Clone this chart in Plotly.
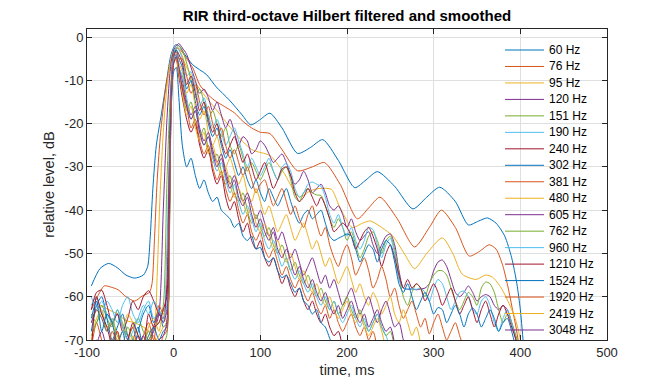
import plotly.graph_objects as go

# ---------------- data ----------------
BANDS = ["60 Hz", "76 Hz", "95 Hz", "120 Hz", "151 Hz", "190 Hz", "240 Hz", "302 Hz", "381 Hz",
         "480 Hz", "605 Hz", "762 Hz", "960 Hz", "1210 Hz", "1524 Hz", "1920 Hz", "2419 Hz", "3048 Hz"]
COLORS = ['#0072BD', '#D95319', '#EDB120', '#7E2F8E', '#77AC30', '#4DBEEE', '#A2142F']

X_TICKS = [-100, 0, 100, 200, 300, 400, 500]
Y_TICKS = [0, -10, -20, -30, -40, -50, -60, -70]
Y_TICK_TEXT = ["0", "-10", "-20", "-30", "-40", "-50", "-60", "-70"]

# smooth low bands: own knots (time ms, level dB)
T60 = [-95, -85, -75, -65, -55, -45, -35, -30, -27, -24, -20, -14, -8, -3, 2, 6, 11, 22, 38, 49,
       64, 79, 89, 99, 111, 125, 143, 158, 172, 190, 209, 222, 235, 255, 276, 292, 307, 325, 340, 352,
       362, 372, 382, 390, 396, 400, 404]
Y60 = [-57.5, -53.5, -52.3, -53.3, -55, -55.7, -55, -53, -46, -35, -25, -17.6, -9.9, -4, -1.8, -2, -3.5, -6.4, -8.7, -11.5,
       -14.5, -18, -20.3, -19.2, -17.6, -21, -26.9, -25.5, -23.7, -28.5, -34.8, -33, -31.1, -34.5, -39.7, -37, -34.7, -38, -43.4, -42.5,
       -41.8, -43, -46, -51, -57, -63, -72]

T76 = [-95, -88, -80, -72, -64, -55, -45, -36, -28, -25, -22, -19, -15, -10, -5, 0, 5, 10, 15, 22,
       30, 38, 47, 59, 70, 80, 90, 100, 111, 125, 143, 160, 174, 192, 212, 225, 238, 258, 278, 295,
       309, 325, 341, 353, 364, 372, 380, 386, 391, 395, 399]
Y76 = [-63, -60, -57.5, -57.8, -58.4, -60, -61, -59.8, -59, -57, -46, -33, -22, -13, -7, -3.5, -2.5, -3.5, -5, -7.1,
       -11, -13, -14.6, -16.1, -17.5, -19.5, -21, -22, -22.3, -26, -30.9, -30, -29, -34, -42, -39.5, -37, -42, -48.5, -44,
       -40, -44, -50.6, -49.5, -48, -49, -53, -58, -63, -67, -72]

T95 = [-95, -85, -75, -65, -55, -45, -35, -27, -22, -19, -16, -12, -8, -4, 0, 4, 8, 15, 30, 50,
       70, 90, 111, 126, 145, 158, 168, 182, 191, 206, 218, 227, 240, 253, 266, 278, 292, 310, 322, 333,
       349, 360, 368, 378, 388, 394, 398, 402]
Y95 = [-66, -62, -63, -64, -65.5, -66, -67, -68, -66, -55, -38, -22, -12, -6, -3, -2.5, -3.5, -7, -12, -17,
       -22, -26, -27.4, -31, -37, -35.5, -35, -35.2, -39, -44, -43, -42.5, -44, -46, -50, -53.5, -50, -46.4, -50, -54.8,
       -56, -55, -55.5, -58, -62, -65, -68, -72]

# shared time grid (ms) for the remaining bands
T_GRID = [-95, -89, -83, -77, -71, -65, -59, -53, -47, -41, -35, -29, -23, -17, -12,
          -8, -5, -3, 0, 3, 6,
          10, 15, 20, 25, 30, 35, 40, 45, 50, 55, 60, 65, 70, 75, 80, 85, 90, 95, 100, 105,
          110, 115, 120, 125, 130, 135, 140, 145, 150, 155, 160, 165, 170, 175, 180, 185, 190, 195, 200, 205,
          210, 215, 220, 225, 230, 235, 240, 245, 250, 255, 260, 265, 270, 275, 280, 285, 290, 295, 300, 305,
          310, 315, 320, 325, 330, 335, 340, 345, 350, 355, 360, 365, 370, 375, 380, 385, 390, 395, 400]

Y120 = [-66, -63, -65, -68, -66, -64, -67, -70, -72, -69, -71, -70, -68, -64, -40,
        -20, -10, -6, -3, -2, -1.5,
        -2.5, -4, -7, -10, -13, -12, -14, -17, -15, -18,
        -21, -19, -22, -25, -23, -24, -27, -26, -24, -25,
        -27, -29, -28, -27, -29, -32, -34, -33, -31, -33,
        -36, -35, -34, -36, -39, -40, -39, -41, -44, -42,
        -45, -47, -46, -45, -48, -50, -48, -46, -45.5, -48,
        -54, -58, -58.3, -58.2, -58.4, -58.2, -58, -57, -54, -52,
        -51.5, -53, -56, -59, -60, -59, -57.5, -59, -61, -60,
        -59.5, -60, -62, -63, -62, -63, -66, -70, -74]
Y151 = [-64, -66, -62, -65, -67, -63, -66, -69, -67, -65, -68, -70, -67, -66, -62,
        -35, -18, -10, -4, -2.5, -2,
        -3, -6, -10, -14, -12, -15, -19, -17, -20, -23,
        -21, -25, -27, -25, -28, -31, -29, -31, -33, -31,
        -29, -31, -33, -31, -30, -33, -37, -38, -36, -35,
        -36, -36.5, -36.6, -39, -42, -44, -42, -44, -47, -45,
        -48, -51, -49, -46, -45, -47, -50, -47, -46, -49,
        -55, -60, -62, -59, -57, -58, -60, -57, -55, -54,
        -54, -55, -58, -61, -63, -61, -59, -60, -62, -58,
        -56.6, -57, -59, -63, -66, -64, -66, -69, -73]
Y190 = [-62, -60, -64, -61, -63, -66, -62, -60, -64, -66, -63, -61, -65, -64, -66,
        -50, -25, -12, -4, -2.5, -3,
        -5, -9, -8, -12, -16, -14, -18, -21, -19, -22,
        -25, -23, -21, -24, -27, -30, -28, -30, -32, -30,
        -28, -31, -33, -30, -29.2, -31, -35, -37, -36, -34,
        -33.5, -34, -34.5, -37, -41, -43, -41, -44, -46, -44,
        -47, -49, -47, -44, -44.5, -48, -51, -48, -46.5, -50,
        -56, -58, -58.2, -58.2, -58.3, -58, -59, -61, -58, -56,
        -57, -60, -63, -61, -59, -58.7, -60, -63, -64, -61,
        -60, -62, -66, -68, -65, -63, -66, -70, -75]
Y240 = [-63, -59, -58.5, -62, -66, -64, -68, -65, -61, -63, -60, -58.6, -61, -64, -65,
        -58, -30, -14, -5, -3, -4,
        -6, -11, -9, -13, -17, -15, -19, -22, -20, -24,
        -27, -25, -23, -26, -29, -27, -30, -33, -31, -29,
        -32, -35, -33, -30.5, -30, -32, -36, -38, -37, -35,
        -37, -39, -37, -39, -42, -45, -44, -43, -44, -46,
        -49, -47, -45, -44, -46, -49, -53, -50, -48, -51,
        -55, -58, -56, -58, -57, -58, -61, -59, -57, -59,
        -62, -60, -58, -61, -64, -62, -60, -63, -66, -63,
        -61, -64, -67, -64, -62, -64, -67, -70, -75]
Y302 = [-68, -62, -60, -65, -70, -67, -64, -69, -72, -68, -64, -62, -66, -63, -67,
        -66, -35, -12, -4, -3, -5,
        -7, -12, -10, -15, -18, -16, -20, -23, -21, -25,
        -28, -26, -29, -32, -30, -33, -35, -33, -36, -38,
        -35, -37, -39, -37, -35, -38, -41, -43, -41, -40,
        -42, -41, -40, -43, -46, -47, -46.5, -46, -45.5, -46,
        -49, -52, -50, -48, -49, -52, -49, -47, -48, -52,
        -57, -59, -57, -60, -63, -61, -59, -61, -64, -62.5,
        -63, -66, -64, -62, -64, -67, -64, -62.6, -64, -67,
        -65, -63, -65, -68, -66, -65, -68, -72]
Y381 = [-72, -66, -70, -73, -68, -71, -74, -70, -67, -72, -69, -66, -70, -62, -64,
        -64, -40, -14, -4, -3.5, -5,
        -5, -9, -13, -11, -15, -18, -16, -20, -23, -21,
        -25, -28, -26, -29, -32, -30, -33, -36, -34, -33,
        -36, -39, -37, -35, -38, -41, -39, -42, -44, -41,
        -39, -43, -46, -44, -48, -51, -53, -50, -48, -51,
        -55, -53, -51, -54, -58, -56, -53, -56, -60, -58,
        -62, -65, -63, -61, -64, -67, -65, -68.6, -66, -64,
        -67, -70, -68, -66, -69, -72]
Y480 = [-70, -65, -63, -67, -66, -70, -68, -64, -66, -69, -72, -67, -65, -68, -63,
        -66, -45, -16, -5, -4, -6,
        -8, -13, -11, -16, -19, -17, -22, -25, -23, -27,
        -30, -28, -31, -34, -32, -36, -38, -35, -38, -41,
        -39, -42, -45, -43, -41, -44, -47, -45, -43, -46,
        -49, -47, -50, -53, -51, -54, -57, -55, -53, -56,
        -59, -57, -60, -62, -59, -61, -64, -62, -60, -64,
        -66, -63, -66, -69, -67, -71]
Y605 = [-75, -71, -68, -72, -74, -70, -73, -71, -75, -72, -69, -73, -67, -64, -66,
        -63, -42, -15, -5, -4, -7,
        -10, -15, -18, -16, -21, -24, -22, -26, -29, -27,
        -31, -34, -32, -35, -38, -36, -39, -42, -40, -43,
        -46, -44, -47, -45, -48, -51, -49, -52, -55, -53,
        -51, -54, -57, -55, -58, -56, -59, -62, -60, -58,
        -61, -64, -62, -60, -63, -66, -63, -61, -64, -67,
        -66, -70, -73]
Y762 = [-69, -66, -64, -68, -65, -69, -71, -67, -70, -74, -71, -68, -72, -74, -71,
        -69, -48, -18, -6, -4.5, -8,
        -12, -17, -15, -20, -23, -21, -26, -29, -27, -31,
        -34, -32, -36, -38, -36, -40, -43, -41, -44, -46,
        -44, -48, -50, -48, -51, -54, -52, -55, -57, -55,
        -58, -60, -58, -61, -63, -61, -64, -62, -60, -63,
        -65, -63, -66, -68, -66, -64, -67, -69, -68, -72]
Y960 = [-60, -63, -61, -64, -66, -63, -67, -70, -68, -65, -62, -64, -61, -63, -65,
        -62, -38, -14, -5, -4, -7,
        -9, -14, -19, -17, -22, -25, -23, -28, -31, -29,
        -33, -36, -34, -38, -41, -39, -42, -45, -43, -47,
        -49, -47, -50, -53, -51, -54, -56, -54, -57, -59,
        -57, -60, -62, -60, -63, -61, -64, -66, -64, -62,
        -65, -67, -65, -68, -66, -64, -67, -69, -72]
Y1210 = [-73, -60, -64, -67, -71, -68, -72, -70, -66, -69, -72, -64, -67, -66, -63,
         -60, -36, -15, -6, -5, -9,
         -14, -19, -22, -20, -25, -28, -26, -31, -34, -32,
         -37, -40, -38, -42, -45, -43, -47, -49, -47, -51,
         -53, -51, -54, -57, -55, -58, -60, -58, -61, -63,
         -61, -64, -66, -64, -67, -69, -68, -72]
Y1524 = [-65, -61, -68, -64, -66, -71, -68, -74, -70, -67, -72, -69, -67, -70, -68,
         -67, -44, -18, -8, -7, -14,
         -25, -30, -28, -32, -35, -33, -36, -38, -37, -40,
         -41, -42, -44, -43, -46, -47, -46, -49, -48.6, -51,
         -52, -51, -54, -55.6, -55, -57, -59, -58, -61, -62,
         -64, -63, -66, -67, -69.6, -72]
Y1920 = [-74, -70, -72, -75, -71, -68, -73, -70, -74, -72, -76, -71, -69, -72, -69,
         -68, -46, -17, -6, -5, -9,
         -11, -16, -21, -19, -24, -27, -25, -30, -33, -31,
         -35, -38, -36, -40, -43, -41, -45, -47, -45, -49,
         -51, -49, -52, -55, -53, -56, -58, -56, -59, -61,
         -59, -62, -64, -62, -65, -63, -66, -68, -66, -64,
         -67, -69, -67, -70, -68, -72]
Y2419 = [-72, -75, -71, -74, -70, -73, -75, -72, -69, -73, -70, -74, -71, -69, -67,
         -66, -42, -16, -6, -5, -8,
         -13, -18, -16, -21, -24, -22, -27, -25, -29, -32,
         -30, -34, -37, -35, -38, -41, -39, -43, -45, -43,
         -46, -49, -47, -50, -52, -50, -53, -56, -54, -57,
         -59, -57, -60, -62, -60, -63, -65, -63, -61, -64,
         -66, -64, -67, -69, -67, -65, -68, -72]
Y3048 = [-76, -73, -75, -72, -76, -74, -71, -75, -73, -76, -72, -70, -74, -70, -69,
         -66, -41, -15, -6, -4.5, -7,
         -12, -16, -19, -17, -22, -25, -23, -27, -30, -28,
         -32, -35, -33, -37, -39, -37, -41, -44, -42, -45,
         -47, -45, -49, -51, -49, -52, -55, -53, -56, -58,
         -56, -59, -61, -59, -62, -64, -62, -65, -63, -61,
         -64, -66, -64, -67, -65, -63, -66, -68, -67, -71]

SERIES_Y = [Y60, Y76, Y95, Y120, Y151, Y190, Y240, Y302, Y381, Y480, Y605, Y762, Y960,
            Y1210, Y1524, Y1920, Y2419, Y3048]
SERIES_T = [T60, T76, T95] + [T_GRID[:len(y)] for y in SERIES_Y[3:]]

# ---------------- layout constants ----------------
W, H = 672, 384
ML, MR, MT, MB = 87, 65, 29, 44
PW, PH = W - ML - MR, H - MT - MB
FONT = "Liberation Sans, Arial, Helvetica, sans-serif"
AX = '#262626'
GRID = '#dfdfdf'


def px_x(p):
    return (p - ML) / PW


def px_y(p):
    return 1 - (p - MT) / PH


fig = go.Figure()
for i, (name, t, y) in enumerate(zip(BANDS, SERIES_T, SERIES_Y)):
    fig.add_trace(go.Scatter(
        x=t, y=y, mode='lines', name=name, showlegend=False,
        line=dict(color=COLORS[i % len(COLORS)], width=1, shape='spline', smoothing=0.7),
        hoverinfo='skip'))

# legend (transparent, MATLAB-like spacing)
LEG_LINE_X0, LEG_LINE_X1, LEG_TEXT_X = 505, 544, 547
LEG_Y0, LEG_DY = 50, 16.47
for i, name in enumerate(BANDS):
    yy = px_y(LEG_Y0 + i * LEG_DY)
    fig.add_shape(type='line', xref='paper', yref='paper',
                  x0=px_x(LEG_LINE_X0), x1=px_x(LEG_LINE_X1), y0=yy, y1=yy,
                  line=dict(color=COLORS[i % len(COLORS)], width=1))
    fig.add_annotation(xref='paper', yref='paper', x=px_x(LEG_TEXT_X), y=yy,
                       text=name, showarrow=False, xanchor='left', yanchor='middle',
                       font=dict(family=FONT, size=12, color='#000000'))

axis_common = dict(showline=True, linecolor=AX, linewidth=1, mirror='allticks',
                   ticks='inside', ticklen=5, tickcolor=AX, tickwidth=1,
                   showgrid=True, gridcolor=GRID, gridwidth=1, zeroline=False,
                   tickfont=dict(family=FONT, size=13, color=AX))

fig.update_xaxes(range=[-100, 500], tickvals=X_TICKS, ticktext=[str(v) for v in X_TICKS],
                 title=dict(text='time, ms', font=dict(family=FONT, size=14.5, color=AX), standoff=6),
                 **axis_common)
fig.update_yaxes(range=[-70, 1.86], tickvals=Y_TICKS, ticktext=Y_TICK_TEXT,
                 title=dict(text='relative level, dB', font=dict(family=FONT, size=14.5, color=AX), standoff=6),
                 **axis_common)

fig.update_layout(
    width=W, height=H,
    margin=dict(l=ML, r=MR, t=MT, b=MB, autoexpand=False),
    paper_bgcolor='white', plot_bgcolor='white',
    hovermode=False,
    title=dict(text='<b>RIR third-octave Hilbert filtered and smoothed</b>',
               x=px_x((ML + W - MR) / 2), xref='paper', xanchor='center',
               y=1 - 16 / H, yref='container', yanchor='middle',
               font=dict(family=FONT, size=15, color='#000000')),
    font=dict(family=FONT, color=AX),
)

fig.write_html("out.html", config={'displayModeBar': False, 'staticPlot': True},
               post_script="document.body.style.margin='0';document.body.style.overflow='hidden';")
